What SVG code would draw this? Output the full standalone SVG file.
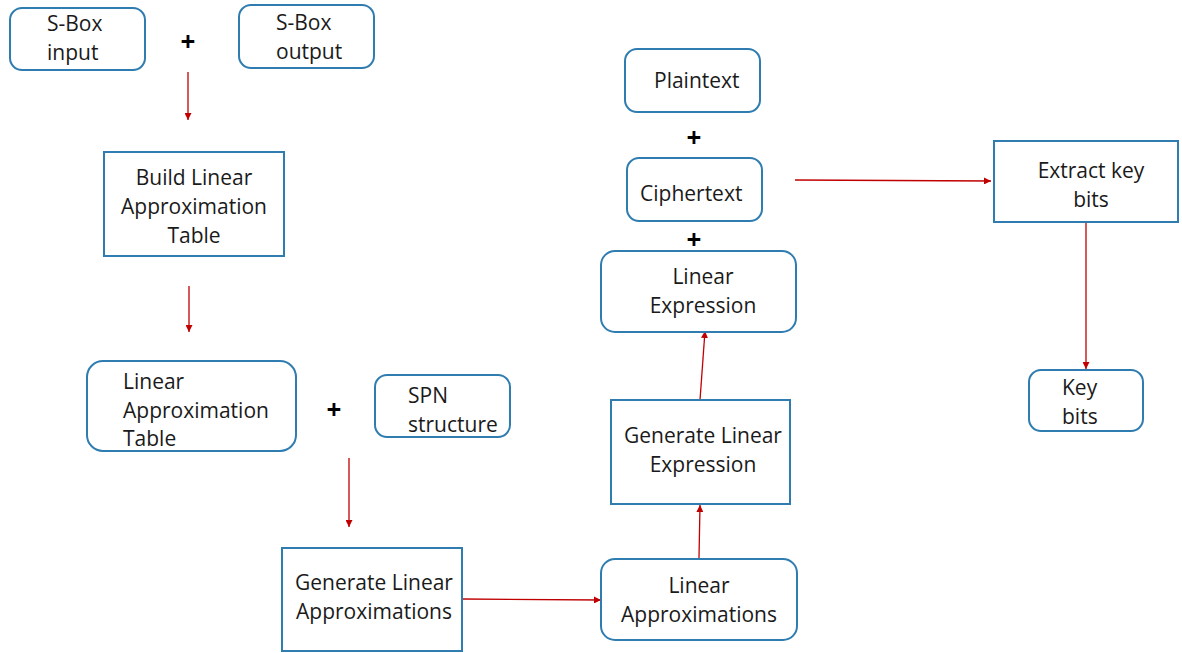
<svg xmlns="http://www.w3.org/2000/svg" width="1182" height="653" viewBox="0 0 1182 653">
<style>
.n{fill:#fff;stroke:#2f7db0;stroke-width:2}
.t{font-family:"Open Sans","Liberation Sans",sans-serif;font-size:21px;fill:#1a1a1a}
.c{text-anchor:middle}
.p{font-family:"Open Sans","Liberation Sans",sans-serif;font-size:26px;font-weight:bold;fill:#000;text-anchor:middle}
.e{stroke:#c00000;stroke-width:1.3;fill:none;marker-end:url(#a)}
</style>
<defs>
<marker id="a" viewBox="0 0 10 10" refX="10" refY="5" markerWidth="7" markerHeight="7" markerUnits="userSpaceOnUse" orient="auto">
<path d="M0,0 L10,5 L0,10 z" fill="#c00000"/>
</marker>
</defs>
<rect width="1182" height="653" fill="#fff"/>
<g id="edges">
<line class="e" x1="188" y1="72" x2="188" y2="120"/>
<line class="e" x1="189" y1="286" x2="189" y2="332"/>
<line class="e" x1="349" y1="458" x2="349" y2="527"/>
<line class="e" x1="462" y1="599" x2="601" y2="600"/>
<line class="e" x1="699" y1="558" x2="700" y2="505"/>
<line class="e" x1="700" y1="400" x2="705" y2="331"/>
<line class="e" x1="795" y1="180" x2="991" y2="181"/>
<line class="e" x1="1086" y1="222" x2="1086" y2="369"/>
</g>
<g id="sbox-input">
<rect class="n" x="10" y="8" width="135" height="62" rx="12"/>
<text class="t" x="47" y="31">S-Box</text>
<text class="t" x="47" y="60">input</text>
</g>
<text class="p" x="188" y="51">+</text>
<g id="sbox-output">
<rect class="n" x="239" y="5" width="135" height="63" rx="12"/>
<text class="t" x="276" y="30">S-Box</text>
<text class="t" x="276" y="59">output</text>
</g>
<g id="build-lat">
<rect class="n" x="104" y="152" width="180" height="104"/>
<text class="t c" x="194" y="185">Build Linear</text>
<text class="t c" x="194" y="214">Approximation</text>
<text class="t c" x="194" y="243">Table</text>
</g>
<g id="lat">
<rect class="n" x="87" y="361" width="209" height="90" rx="16"/>
<text class="t" x="123" y="389">Linear</text>
<text class="t" x="123" y="418">Approximation</text>
<text class="t" x="123" y="446">Table</text>
</g>
<text class="p" x="334" y="419">+</text>
<g id="spn">
<rect class="n" x="375" y="375" width="135" height="62" rx="12"/>
<text class="t" x="408" y="403">SPN</text>
<text class="t" x="408" y="432">structure</text>
</g>
<g id="gen-approx">
<rect class="n" x="282" y="548" width="180" height="103"/>
<text class="t c" x="374" y="590">Generate Linear</text>
<text class="t c" x="374" y="619">Approximations</text>
</g>
<g id="lin-approx">
<rect class="n" x="601" y="559" width="196" height="81" rx="14"/>
<text class="t c" x="699" y="593">Linear</text>
<text class="t c" x="699" y="622">Approximations</text>
</g>
<g id="gen-expr">
<rect class="n" x="611" y="400" width="179" height="104"/>
<text class="t c" x="703" y="443">Generate Linear</text>
<text class="t c" x="703" y="472">Expression</text>
</g>
<g id="lin-expr">
<rect class="n" x="601" y="251" width="195" height="81" rx="14"/>
<text class="t c" x="703" y="284">Linear</text>
<text class="t c" x="703" y="313">Expression</text>
</g>
<text class="p" x="694" y="249">+</text>
<g id="ciphertext">
<rect class="n" x="627" y="158" width="135" height="63" rx="12"/>
<text class="t" x="640" y="201">Ciphertext</text>
</g>
<text class="p" x="694" y="147">+</text>
<g id="plaintext">
<rect class="n" x="625" y="49" width="135" height="63" rx="12"/>
<text class="t" x="654" y="88">Plaintext</text>
</g>
<g id="extract">
<rect class="n" x="994" y="141" width="184" height="81"/>
<text class="t c" x="1091" y="178">Extract key</text>
<text class="t c" x="1091" y="207">bits</text>
</g>
<g id="keybits">
<rect class="n" x="1029" y="370" width="114" height="61" rx="12"/>
<text class="t" x="1062" y="395">Key</text>
<text class="t" x="1062" y="424">bits</text>
</g>
</svg>
